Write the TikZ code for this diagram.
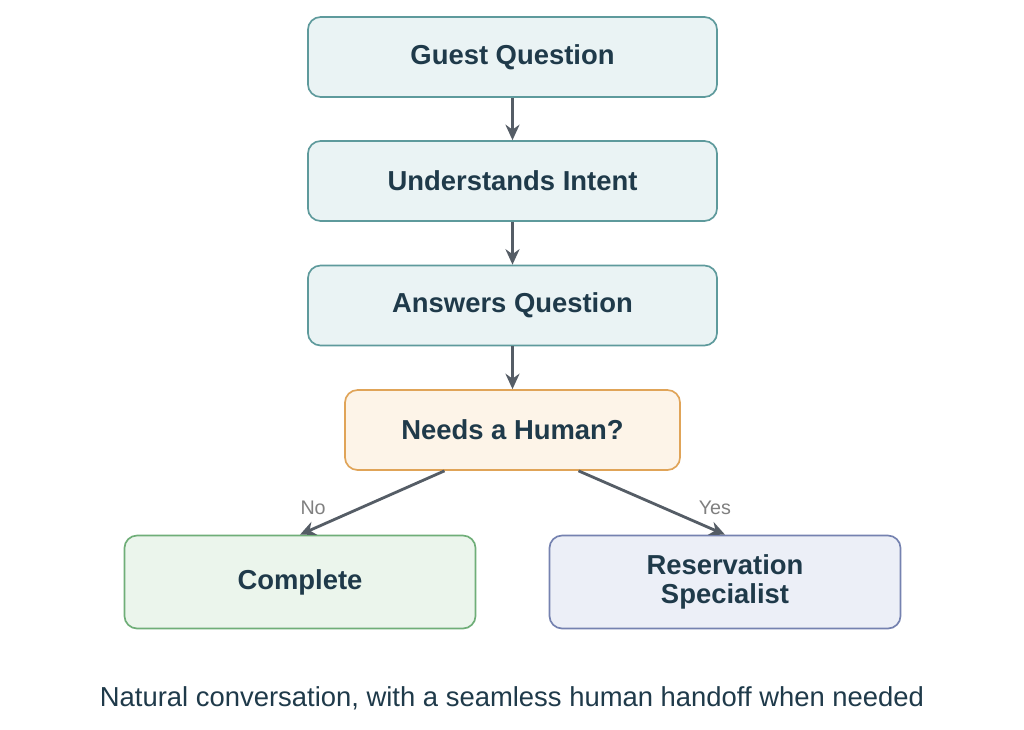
\documentclass[tikz,border=0pt]{standalone}
\usepackage{fontspec}
\setmainfont{Liberation Sans}
\usepackage{xcolor}
\usetikzlibrary{arrows.meta, positioning}
\definecolor{textdark}{HTML}{1F3A4A}
\definecolor{arrowgray}{HTML}{555D66}
\definecolor{tealline}{HTML}{5E9A9C}
\definecolor{tealfill}{HTML}{EAF3F4}
\definecolor{orangeline}{HTML}{E0A458}
\definecolor{orangefill}{HTML}{FDF4E8}
\definecolor{greenline}{HTML}{6FAE78}
\definecolor{greenfill}{HTML}{EBF5EC}
\definecolor{blueline}{HTML}{7582B0}
\definecolor{bluefill}{HTML}{ECEFF7}
\begin{document}
\begin{tikzpicture}[
    x=0.025cm, y=-0.025cm,
    step/.style={draw=#1line, fill=#1fill, rounded corners=9pt, line width=1.2pt, minimum width=10.225cm, minimum height=2cm, font=\fontsize{19.5}{21}\selectfont\bfseries, text=textdark, align=center},
    line/.style={draw=arrowgray, line width=2pt, -{Stealth[length=11pt,width=10pt]}},
    lbl/.style={font=\fontsize{14}{16}\selectfont, text=gray}
]
    \useasboundingbox[fill=white] (0,0) rectangle (1024,729);
    % Main steps
    \node[step=teal] (guest) at (512.5,57) {Guest Question};
    \node[step=teal] (intent) at (512.5,181) {Understands Intent};
    \node[step=teal] (answer) at (512.5,305.5) {Answers Question};
    \node[step=orange, minimum width=8.375cm] (human) at (512.5,430) {Needs a Human?};
    \node[step=green, minimum width=8.775cm, minimum height=2.325cm] (complete) at (300,582) {Complete};
    \node[step=blue, minimum width=8.775cm, minimum height=2.325cm] (special) at (725,582) {Reservation\\Specialist};

    \draw[line] (guest) -- (intent);
    \draw[line] (intent) -- (answer);
    \draw[line] (answer) -- (human);
    \draw[line] ([xshift=-1.7cm]human.south) -- node[lbl, above left, pos=0.78] {No} (complete.north);
    \draw[line] ([xshift=1.65cm]human.south) -- node[lbl, above right, pos=0.78] {Yes} (special.north);

    \node[font=\fontsize{19.5}{22}\selectfont, text=textdark] (caption) at (512,698) {Natural conversation, with a seamless human handoff when needed};
\end{tikzpicture}
\end{document}
